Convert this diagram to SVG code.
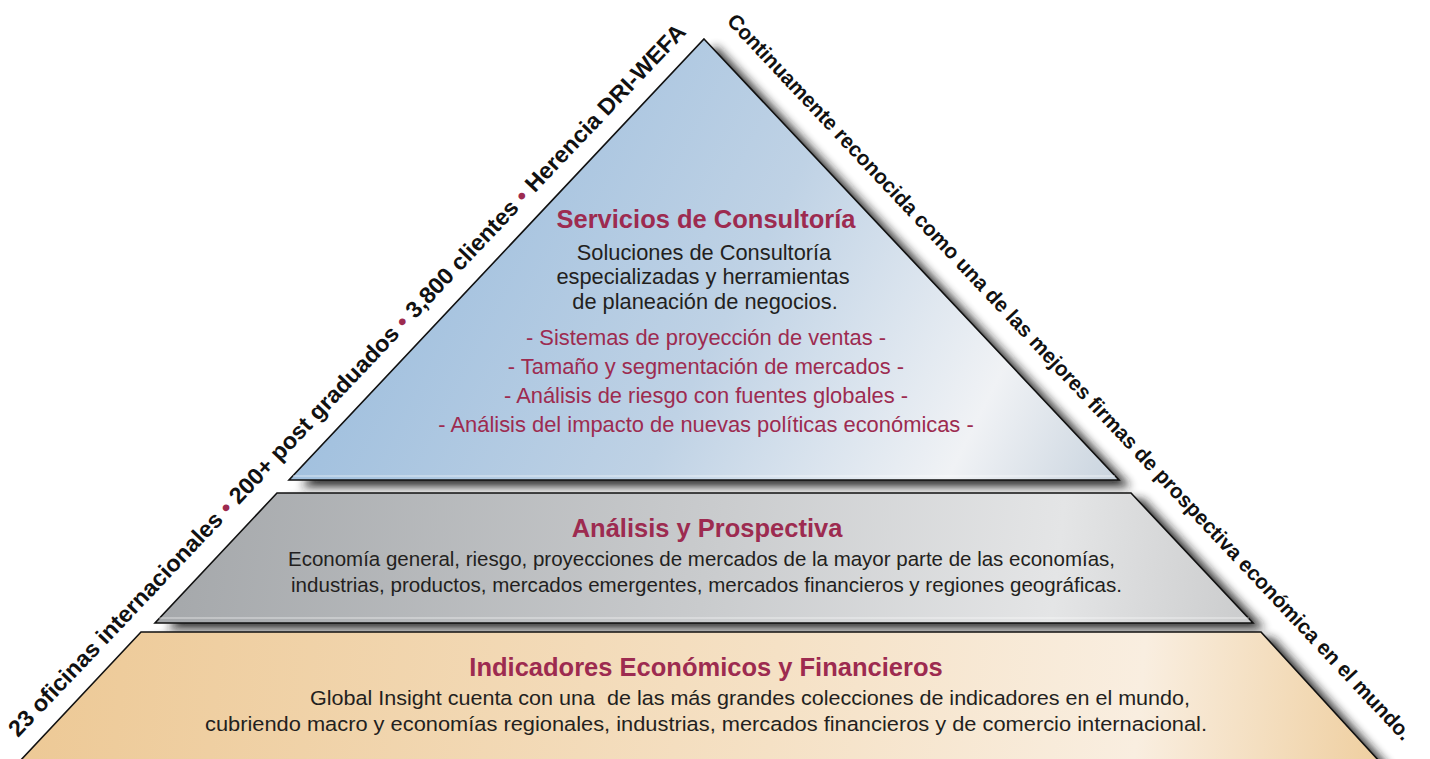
<svg xmlns="http://www.w3.org/2000/svg" width="1430" height="759" viewBox="0 0 1430 759">
<defs>
<style>
text{font-family:"Liberation Sans",Arial,Helvetica,sans-serif}
.title{font-weight:bold;font-size:25.5px;fill:#9d2b50;text-anchor:middle}
.body{font-size:21.8px;fill:#231f20;text-anchor:middle}
.red{font-size:21.9px;fill:#9d2b50;text-anchor:middle}
.body2{font-size:20.5px;fill:#231f20}
.side{font-weight:bold;fill:#111}
.dot{fill:#9d2b50}
.edge{stroke:#111;stroke-width:1.6;stroke-linejoin:miter}
.hl{stroke:#fff;stroke-width:1.2;opacity:0.6;fill:none}
</style>
<linearGradient id="gTop" gradientUnits="userSpaceOnUse" x1="420" y1="150" x2="1110" y2="500">
<stop offset="0" stop-color="#9fbfde"/>
<stop offset="0.45" stop-color="#bfd2e5"/>
<stop offset="0.8" stop-color="#f0f2f5"/>
<stop offset="1" stop-color="#c8d3de"/>
</linearGradient>
<linearGradient id="gMid" gradientUnits="userSpaceOnUse" x1="160" y1="500" x2="1250" y2="620">
<stop offset="0" stop-color="#a4a7aa"/>
<stop offset="0.5" stop-color="#c9cbcd"/>
<stop offset="0.82" stop-color="#e4e5e6"/>
<stop offset="1" stop-color="#cbcccd"/>
</linearGradient>
<linearGradient id="gBot" gradientUnits="userSpaceOnUse" x1="30" y1="640" x2="1380" y2="759">
<stop offset="0" stop-color="#edc996"/>
<stop offset="0.55" stop-color="#f5e1c5"/>
<stop offset="0.82" stop-color="#f9eee0"/>
<stop offset="1" stop-color="#efcfa0"/>
</linearGradient>
<filter id="blur" x="-10%" y="-10%" width="120%" height="120%">
<feGaussianBlur stdDeviation="5"/>
</filter>
</defs>
<rect width="1430" height="759" fill="#fff"/>
<g id="shadows" filter="url(#blur)" fill="#1a1a1a" opacity="0.9">
<polygon points="716,46 1131,487 301,487"/>
<polygon points="289,499 1143,499 1265,629 167,629"/>
<polygon points="153,638 1273,638 1392,770 33,770"/>
</g>
<g id="layer-top">
<polygon class="edge" points="704,39 1119,480 289,480" fill="url(#gTop)"/>
<line class="hl" x1="293" y1="476" x2="1115" y2="476"/>
<text class="title" x="706" y="228">Servicios de Consultoría</text>
<text class="body" x="704" y="260">Soluciones de Consultoría</text>
<text class="body" x="703" y="284">especializadas y herramientas</text>
<text class="body" x="705" y="309">de planeación de negocios.</text>
<text class="red" x="706" y="345">- Sistemas de proyección de ventas -</text>
<text class="red" x="706" y="374">- Tamaño y segmentación de mercados -</text>
<text class="red" x="706" y="403">- Análisis de riesgo con fuentes globales -</text>
<text class="red" x="706" y="432">- Análisis del impacto de nuevas políticas económicas -</text>
</g>
<g id="layer-middle">
<polygon class="edge" points="277,493 1131,493 1253,623 155,623" fill="url(#gMid)"/>
<line class="hl" x1="159" y1="618" x2="1249" y2="618"/>
<text class="title" x="707" y="537">Análisis y Prospectiva</text>
<text class="body2" x="288" y="566" textLength="827" lengthAdjust="spacingAndGlyphs">Economía general, riesgo, proyecciones de mercados de la mayor parte de las economías,</text>
<text class="body2" x="291" y="592" textLength="831" lengthAdjust="spacingAndGlyphs">industrias, productos, mercados emergentes, mercados financieros y regiones geográficas.</text>
</g>
<g id="layer-bottom">
<polygon class="edge" points="141,632 1261,632 1380,762 19,762" fill="url(#gBot)"/>
<text class="title" x="706" y="676">Indicadores Económicos y Financieros</text>
<text class="body2" x="310" y="705" textLength="880" lengthAdjust="spacingAndGlyphs" xml:space="preserve">Global Insight cuenta con una  de las más grandes colecciones de indicadores en el mundo,</text>
<text class="body2" x="205" y="731" textLength="1002" lengthAdjust="spacingAndGlyphs">cubriendo macro y economías regionales, industrias, mercados financieros y de comercio internacional.</text>
</g>
<g id="label-left">
<text class="side" font-size="23" transform="translate(18,738) rotate(-46.5)" textLength="972" lengthAdjust="spacingAndGlyphs">23 oficinas internacionales <tspan class="dot">•</tspan> 200+ post graduados <tspan class="dot">•</tspan> 3,800 clientes <tspan class="dot">•</tspan> Herencia DRI-WEFA</text>
</g>
<g id="label-right">
<text class="side" font-size="21" transform="translate(726,22) rotate(46.75)" textLength="988" lengthAdjust="spacingAndGlyphs">Continuamente reconocida como una de las mejores firmas de prospectiva económica en el mundo.</text>
</g>
</svg>
